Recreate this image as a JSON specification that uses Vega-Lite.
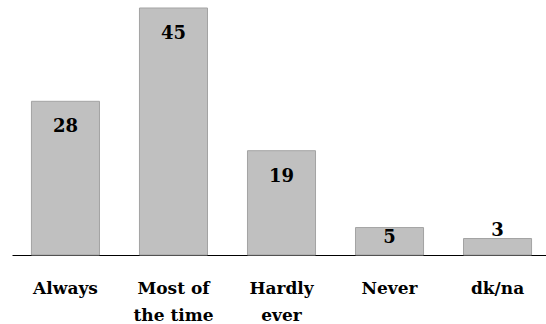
{
  "$schema": "https://vega.github.io/schema/vega-lite/v6.json",
  "autosize": "none",
  "width": 539,
  "height": 247,
  "padding": {"left": 12, "top": 8, "right": 0, "bottom": 69},
  "background": "white",
  "config": {"view": {"stroke": null}},
  "data": {"values": [
    {"answer": "Always", "value": 28},
    {"answer": "Most of the time", "value": 45},
    {"answer": "Hardly ever", "value": 19},
    {"answer": "Never", "value": 5},
    {"answer": "dk/na", "value": 3}
  ]},
  "encoding": {
    "x": {"field": "answer", "type": "nominal", "sort": null,
      "scale": {"paddingInner": 0.37, "paddingOuter": 0.18},
      "axis": {"title": null, "labelAngle": 0, "ticks": false, "domainColor": "#000000", "domainWidth": 1,
        "labelFont": "DejaVu Serif", "labelFontWeight": "bold", "labelFontSize": 17, "labelColor": "#000000",
        "labelPadding": 25, "labelBaseline": "top", "labelLineHeight": 27,
        "labelExpr": "datum.value == 'Most of the time' ? ['Most of', 'the time'] : datum.value == 'Hardly ever' ? ['Hardly', 'ever'] : datum.value"}},
    "y": {"field": "value", "type": "quantitative", "scale": {"domain": [0, 45], "nice": false}, "axis": null}
  },
  "layer": [
    {"mark": {"type": "bar", "fill": "#c0c0c0", "stroke": "#a3a3a3", "strokeWidth": 1}},
    {"transform": [{"filter": "datum.value >= 10"}],
     "mark": {"type": "text", "font": "DejaVu Serif", "fontWeight": "bold", "fontSize": 18, "baseline": "middle", "dy": 26, "color": "#000000"},
     "encoding": {"text": {"field": "value", "type": "quantitative"}}},
    {"transform": [{"filter": "datum.value >= 4 && datum.value < 10"}],
     "mark": {"type": "text", "font": "DejaVu Serif", "fontWeight": "bold", "fontSize": 18, "baseline": "middle", "dy": 10, "color": "#000000"},
     "encoding": {"text": {"field": "value", "type": "quantitative"}}},
    {"transform": [{"filter": "datum.value < 4"}],
     "mark": {"type": "text", "font": "DejaVu Serif", "fontWeight": "bold", "fontSize": 18, "baseline": "middle", "dy": -8, "color": "#000000"},
     "encoding": {"text": {"field": "value", "type": "quantitative"}}}
  ]
}
